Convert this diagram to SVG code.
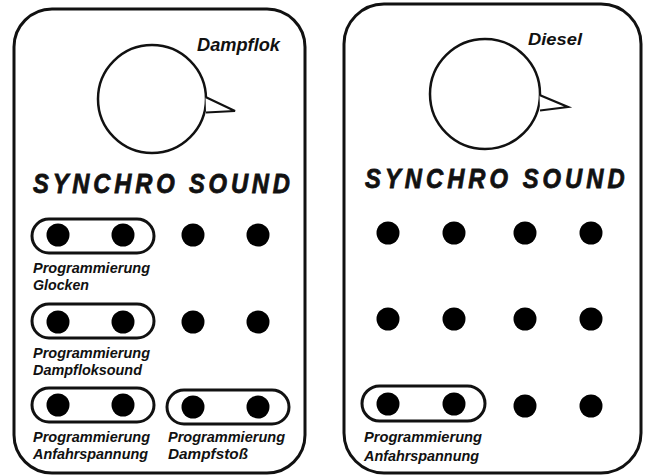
<svg xmlns="http://www.w3.org/2000/svg" width="646" height="476" viewBox="0 0 646 476">
<style>
.panel{fill:#fff;stroke:#111;stroke-width:3}
.knob{fill:#fff;stroke:#111;stroke-width:2.5}
.ptr{fill:#fff;stroke:#111;stroke-width:2.2;stroke-linejoin:miter}
.cap{fill:none;stroke:#111;stroke-width:3}
.dot{fill:#000}
.t{font-family:"Liberation Sans",Arial,sans-serif;font-weight:bold;font-style:italic;fill:#111}
.lbl{font-size:15.5px}
.big{font-size:27px;stroke:#111;stroke-width:0.8}
</style>
<rect width="646" height="476" fill="#fff"/>
<g id="panel-dampflok">
<rect class="panel" x="14" y="9" width="291" height="464" rx="38"/>
<text class="t" x="197" y="51" font-size="18" textLength="83" lengthAdjust="spacingAndGlyphs">Dampflok</text>
<circle class="knob" cx="152" cy="99" r="54"/>
<path class="ptr" d="M205.5,97 L235,111 L206,112.5"/>
<text class="t big" transform="translate(33,193) scale(0.88,1)" x="0" y="0" textLength="292" lengthAdjust="spacing">SYNCHRO SOUND</text>
<rect class="cap" x="32" y="219" width="122" height="34" rx="17"/>
<rect class="cap" x="32" y="304" width="122" height="34" rx="17"/>
<rect class="cap" x="32" y="388" width="122" height="34" rx="17"/>
<rect class="cap" x="167" y="390" width="122" height="34" rx="17"/>
<circle class="dot" cx="58" cy="235" r="11.5"/><circle class="dot" cx="123" cy="235" r="11.5"/><circle class="dot" cx="193" cy="235" r="11.5"/><circle class="dot" cx="258" cy="235" r="11.5"/>
<circle class="dot" cx="58" cy="322" r="11.5"/><circle class="dot" cx="123" cy="322" r="11.5"/><circle class="dot" cx="193" cy="322" r="11.5"/><circle class="dot" cx="258" cy="322" r="11.5"/>
<circle class="dot" cx="58" cy="405" r="11.5"/><circle class="dot" cx="123" cy="405" r="11.5"/><circle class="dot" cx="193" cy="407" r="11.5"/><circle class="dot" cx="258" cy="407" r="11.5"/>
<text class="t lbl" x="33" y="273" textLength="117" lengthAdjust="spacingAndGlyphs">Programmierung</text>
<text class="t lbl" x="33" y="290" textLength="56" lengthAdjust="spacingAndGlyphs">Glocken</text>
<text class="t lbl" x="33" y="358" textLength="117" lengthAdjust="spacingAndGlyphs">Programmierung</text>
<text class="t lbl" x="33" y="375" textLength="109" lengthAdjust="spacingAndGlyphs">Dampfloksound</text>
<text class="t lbl" x="33" y="442" textLength="117" lengthAdjust="spacingAndGlyphs">Programmierung</text>
<text class="t lbl" x="33" y="459" textLength="115" lengthAdjust="spacingAndGlyphs">Anfahrspannung</text>
<text class="t lbl" x="168" y="442" textLength="117" lengthAdjust="spacingAndGlyphs">Programmierung</text>
<text class="t lbl" x="168" y="459" textLength="80" lengthAdjust="spacingAndGlyphs">Dampfstoß</text>
</g>
<g id="panel-diesel">
<rect class="panel" x="344" y="4" width="297" height="469" rx="40"/>
<text class="t" x="528" y="45" font-size="17" textLength="54" lengthAdjust="spacingAndGlyphs">Diesel</text>
<circle class="knob" cx="485" cy="94" r="55"/>
<path class="ptr" d="M539.5,95 L568,107 L540,110.5"/>
<text class="t big" transform="translate(365,188) scale(0.88,1)" x="0" y="0" textLength="295" lengthAdjust="spacing">SYNCHRO SOUND</text>
<rect class="cap" x="362" y="386" width="123" height="35" rx="17.5"/>
<circle class="dot" cx="388" cy="233" r="11.5"/><circle class="dot" cx="454" cy="233" r="11.5"/><circle class="dot" cx="525" cy="233" r="11.5"/><circle class="dot" cx="591" cy="233" r="11.5"/>
<circle class="dot" cx="388" cy="319" r="11.5"/><circle class="dot" cx="454" cy="319" r="11.5"/><circle class="dot" cx="525" cy="319" r="11.5"/><circle class="dot" cx="591" cy="319" r="11.5"/>
<circle class="dot" cx="388" cy="404" r="11.5"/><circle class="dot" cx="454" cy="404" r="11.5"/><circle class="dot" cx="525" cy="406" r="11.5"/><circle class="dot" cx="591" cy="406" r="11.5"/>
<text class="t lbl" x="364" y="442" textLength="118" lengthAdjust="spacingAndGlyphs">Programmierung</text>
<text class="t lbl" x="364" y="461" textLength="115" lengthAdjust="spacingAndGlyphs">Anfahrspannung</text>
</g>
<g id="connectors"/>
</svg>
